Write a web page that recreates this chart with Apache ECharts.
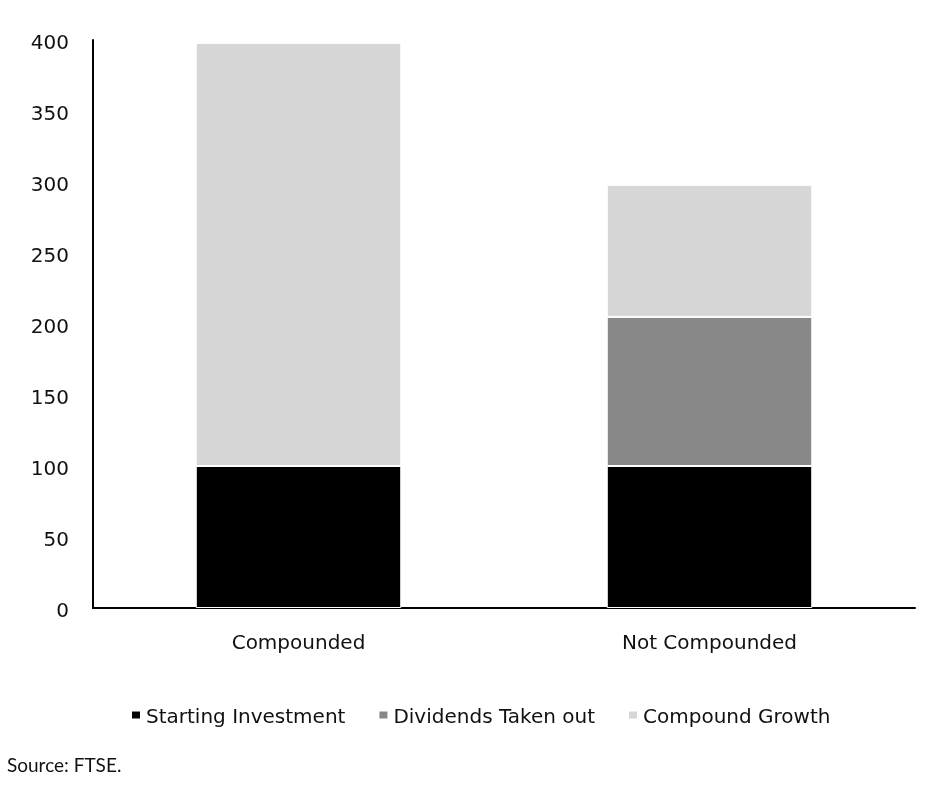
<!DOCTYPE html>
<html><head><meta charset="utf-8">
<script src="https://cdn.jsdelivr.net/npm/echarts@6/dist/echarts.min.js"></script>
<style>html,body{margin:0;padding:0;background:#fff;}#c{width:935px;height:792px;}</style>
</head><body><div id="c"></div>
<script>
const categories = ['Compounded', 'Not Compounded'];
const startingInvestment = [100, 100];
const dividendsTakenOut = [0, 105];
const compoundGrowth = [298, 93];
const seriesNames = ['Starting Investment', 'Dividends Taken out', 'Compound Growth'];
const colors = ['#000000', '#888888', '#d6d6d6'];
const font = '"DejaVu Sans", sans-serif';
const chart = echarts.init(document.getElementById('c'));
const mk = (name, data, color) => ({
  name, type: 'bar', stack: 'total', data, barWidth: '50%',
  itemStyle: { color, borderColor: '#fff', borderWidth: 1 },
  emphasis: { disabled: true }
});
chart.setOption({
  animation: false,
  textStyle: { fontFamily: font },
  grid: { left: 93, right: 20, top: 40, bottom: 184 },
  xAxis: {
    type: 'category', data: categories,
    axisLine: { lineStyle: { color: '#000', width: 2 } },
    axisTick: { show: false },
    axisLabel: { color: '#111', fontSize: 20, margin: 26, fontFamily: font }
  },
  yAxis: {
    type: 'value', min: 0, max: 400, interval: 50,
    axisLine: { show: true, lineStyle: { color: '#000', width: 2 } },
    axisTick: { show: false },
    splitLine: { show: false },
    axisLabel: {
      color: '#111', fontSize: 20, margin: 24, fontFamily: font,
      formatter: '{a|{value}}',
      rich: { a: { fontSize: 20, fontFamily: font, color: '#111', padding: [8, 0, 0, 0] } }
    }
  },
  legend: {
    data: seriesNames, bottom: 59, left: 125,
    icon: 'path://M0,0h10v9h-10z M0,15h0.01v0.01h-0.01z',
    itemWidth: 10, itemHeight: 15, itemGap: 32,
    textStyle: { fontSize: 20, color: '#111', fontFamily: font }
  },
  graphic: [{
    type: 'text', left: 7, top: 756,
    style: { text: 'Source: FTSE.', fontSize: 19, fill: '#111', fontFamily: 'Lato, sans-serif' }
  }],
  series: [
    mk(seriesNames[0], startingInvestment, colors[0]),
    mk(seriesNames[1], dividendsTakenOut, colors[1]),
    mk(seriesNames[2], compoundGrowth, colors[2])
  ]
});
</script></body></html>
